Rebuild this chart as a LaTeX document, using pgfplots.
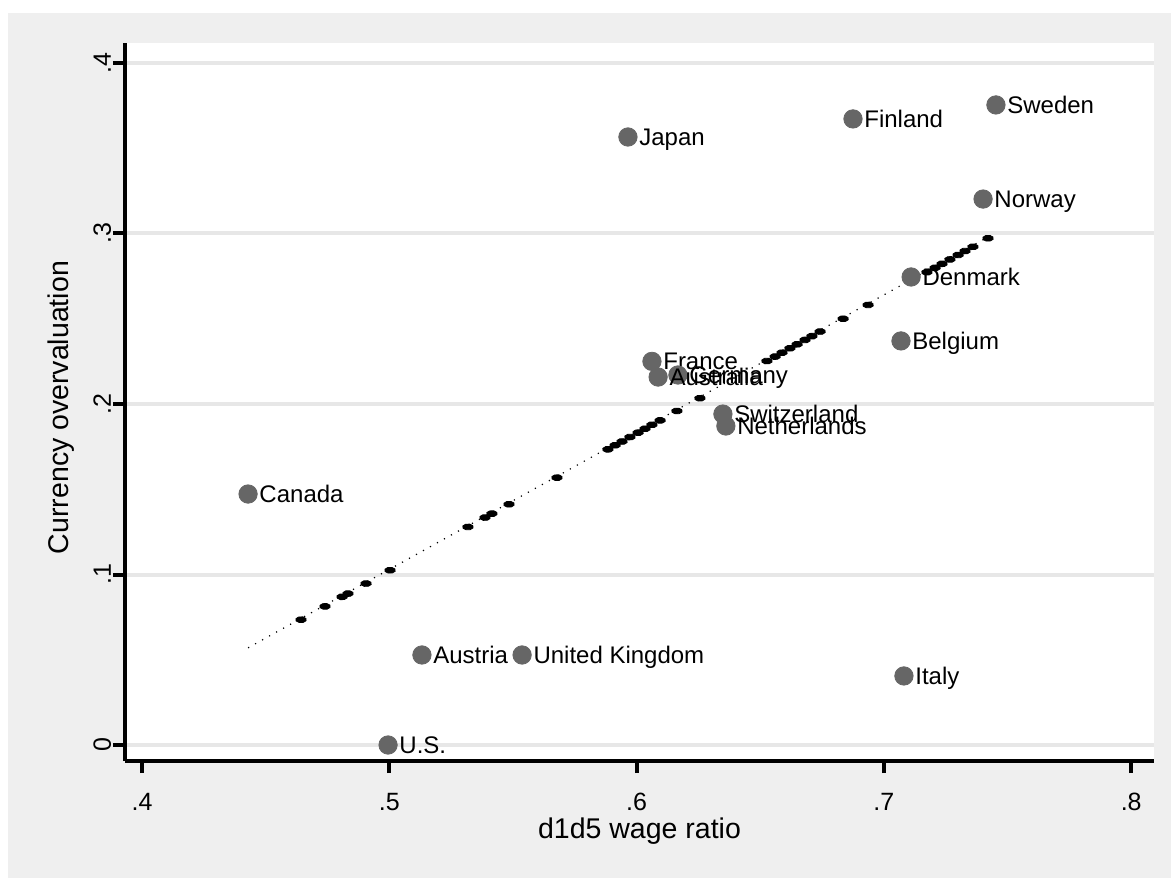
\documentclass[border=0pt]{standalone}
\usepackage{pgfplots}
\usepackage{pgfplotstable}
\pgfplotsset{compat=1.18}
\usepackage{fontspec}
\setmainfont{Liberation Sans}
\definecolor{bggray}{RGB}{239,239,239}
\definecolor{gridgray}{RGB}{231,231,231}
\definecolor{markgray}{RGB}{102,102,102}

\pgfplotstableread[col sep=comma, row sep=\\]{
x,y,label\\
0.5965,0.3566,Japan\\
0.6875,0.3672,Finland\\
0.7453,0.3754,Sweden\\
0.7401,0.3202,Norway\\
0.7110,0.2745,Denmark\\
0.7069,0.2370,Belgium\\
0.6062,0.2250,France\\
0.6167,0.2170,Germany\\
0.6087,0.2158,Australia\\
0.6349,0.1941,Switzerland\\
0.6361,0.1871,Netherlands\\
0.4429,0.1472,Canada\\
0.5132,0.0528,Austria\\
0.5537,0.0528,United Kingdom\\
0.7081,0.0405,Italy\\
0.4995,0.0000,U.S.\\
}\countries

\pgfplotstableread[col sep=comma, row sep=\\]{
x,y\\
0.4643,0.0735\\
0.4740,0.0813\\
0.4809,0.0869\\
0.4833,0.0888\\
0.4906,0.0947\\
0.5003,0.1025\\
0.5318,0.1279\\
0.5387,0.1334\\
0.5415,0.1357\\
0.5484,0.1412\\
0.5678,0.1568\\
0.5884,0.1734\\
0.5913,0.1758\\
0.5941,0.1780\\
0.5973,0.1806\\
0.6006,0.1832\\
0.6034,0.1855\\
0.6062,0.1878\\
0.6095,0.1904\\
0.6163,0.1959\\
0.6256,0.2034\\
0.6527,0.2252\\
0.6560,0.2278\\
0.6588,0.2301\\
0.6620,0.2327\\
0.6649,0.2350\\
0.6681,0.2376\\
0.6709,0.2398\\
0.6742,0.2425\\
0.6835,0.2500\\
0.6936,0.2581\\
0.7174,0.2773\\
0.7207,0.2799\\
0.7235,0.2822\\
0.7267,0.2848\\
0.7300,0.2874\\
0.7328,0.2897\\
0.7360,0.2922\\
0.7421,0.2972\\
}\fitmarks

\begin{document}
\begin{tikzpicture}
\useasboundingbox (0,0) rectangle (585.5pt,439pt);
\fill[white] (0,0) rectangle (585.5pt,439pt);
\fill[bggray] (4pt,0) rectangle (585.5pt,432.5pt);
\begin{axis}[
  at={(62.5pt,58.5pt)}, anchor=south west,
  scale only axis, width=514.5pt, height=359pt,
  xmin=0.39313, xmax=0.80922, ymin=-0.00938, ymax=0.41173,
  axis background/.style={fill=white},
  axis x line*=bottom, axis y line*=left,
  axis line style={-, line width=2pt, black},
  xtick={0.4,0.5,0.6,0.7,0.8}, xticklabels={.4,.5,.6,.7,.8},
  ytick={0,0.1,0.2,0.3,0.4}, yticklabels={0,.1,.2,.3,.4},
  tick align=outside, major tick length=6pt,
  tick style={line width=2pt, black},
  ymajorgrids, major grid style={gridgray, line width=2pt},
  /pgf/number format/assume math mode=true,
  ticklabel style={font=\fontsize{12.5}{14}\selectfont},
  xticklabel style={anchor=base, yshift=-18.5pt},
  yticklabel style={anchor=base, xshift=-1pt, rotate=90},
  xlabel={d1d5 wage ratio}, ylabel={Currency overvaluation},
  label style={font=\fontsize{14.25}{17}\selectfont},
  xlabel style={at={(rel axis cs:0.5,0)}, anchor=base, yshift=-38.5pt},
  ylabel style={at={(rel axis cs:0,0.4923)}, anchor=center, yshift=32pt},
  clip=false,
]
\addplot[only marks, mark=*, mark size=4.6pt, mark options={fill=markgray, draw=markgray},
  point meta=explicit symbolic,
  nodes near coords,
  every node near coord/.style={anchor=base west, inner sep=0pt, xshift=5.5pt, yshift=-4.3pt, font=\fontsize{12}{14}\selectfont, text=black}]
  table[x=x, y=y, meta=label] {\countries};
\addplot[black, line width=0.6pt, dash pattern=on 0.6pt off 3.4pt] coordinates {(0.4429,0.0570) (0.7453,0.3005)};
\addplot[only marks, mark=*, mark size=1.5pt, mark options={fill=black, draw=black, xscale=1.8, rotate=25}]
  table[x=x, y=y] {\fitmarks};
\end{axis}
\end{tikzpicture}
\end{document}
